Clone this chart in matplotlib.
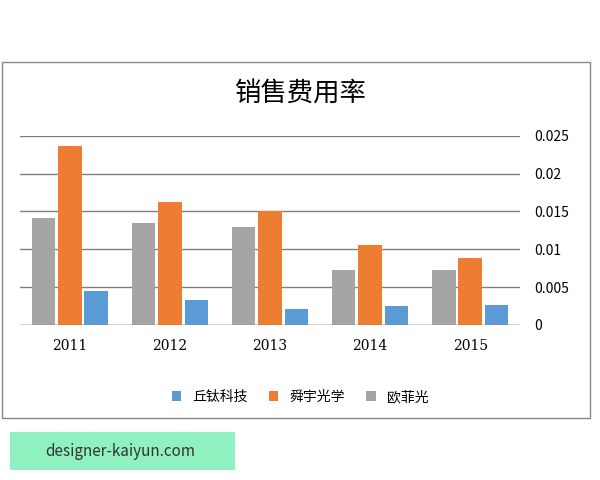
import matplotlib.pyplot as plt
import numpy as np
from matplotlib.patches import Rectangle

plt.rcParams['font.family'] = ['Noto Sans CJK SC', 'DejaVu Sans']

years = ['2011', '2012', '2013', '2014', '2015']
oufeiguang = [0.0142, 0.0135, 0.0130, 0.0073, 0.0073]
shunyu = [0.0237, 0.0163, 0.0151, 0.0106, 0.0089]
qiutai = [0.0045, 0.0033, 0.0021, 0.0025, 0.0026]

fig = plt.figure(figsize=(6, 4.8), dpi=100)
fig.patches.append(Rectangle((0.004, 0.13), 0.98, 0.74, transform=fig.transFigure,
                             fill=False, edgecolor='#888888', lw=1))
fig.patches.append(Rectangle((0.017, 0.02), 0.375, 0.08, transform=fig.transFigure,
                             color='#8ff0c0', lw=0))
fig.text(0.2, 0.06, 'designer-kaiyun.com', ha='center', va='center', fontsize=11, color='#333333')

ax = fig.add_axes([0.033, 0.323, 0.834, 0.394])
x = np.arange(len(years))
w = 0.235
ax.bar(x - w * 1.12, oufeiguang, w, color='#a5a5a5', label='欧菲光', zorder=3)
ax.bar(x, shunyu, w, color='#ed7d31', label='舜宇光学', zorder=3)
ax.bar(x + w * 1.12, qiutai, w, color='#5b9bd5', label='丘钛科技', zorder=3)

ax.set_ylim(0, 0.025)
ax.set_xlim(-0.5, 4.5)
ax.set_yticks([0, 0.005, 0.01, 0.015, 0.02, 0.025])
ax.set_yticklabels(['0', '0.005', '0.01', '0.015', '0.02', '0.025'])
ax.yaxis.tick_right()
ax.grid(axis='y', color='#808080', lw=1, zorder=0)
ax.set_xticks(x)
ax.set_xticklabels(years, fontfamily='DejaVu Serif')
ax.tick_params(length=0, labelsize=10, pad=10)
for s in ax.spines.values():
    s.set_visible(False)
ax.axhline(0, color='#808080', lw=1, zorder=4)

fig.text(0.5, 0.805, '销售费用率', ha='center', va='center', fontsize=19, fontweight='medium')
h, l = ax.get_legend_handles_labels()
fig.legend(h[::-1], l[::-1], loc='center', bbox_to_anchor=(0.5, 0.173), ncol=3,
           frameon=False, fontsize=10, handlelength=0.7, handleheight=0.7, columnspacing=1.5)

fig.savefig('out.png')
